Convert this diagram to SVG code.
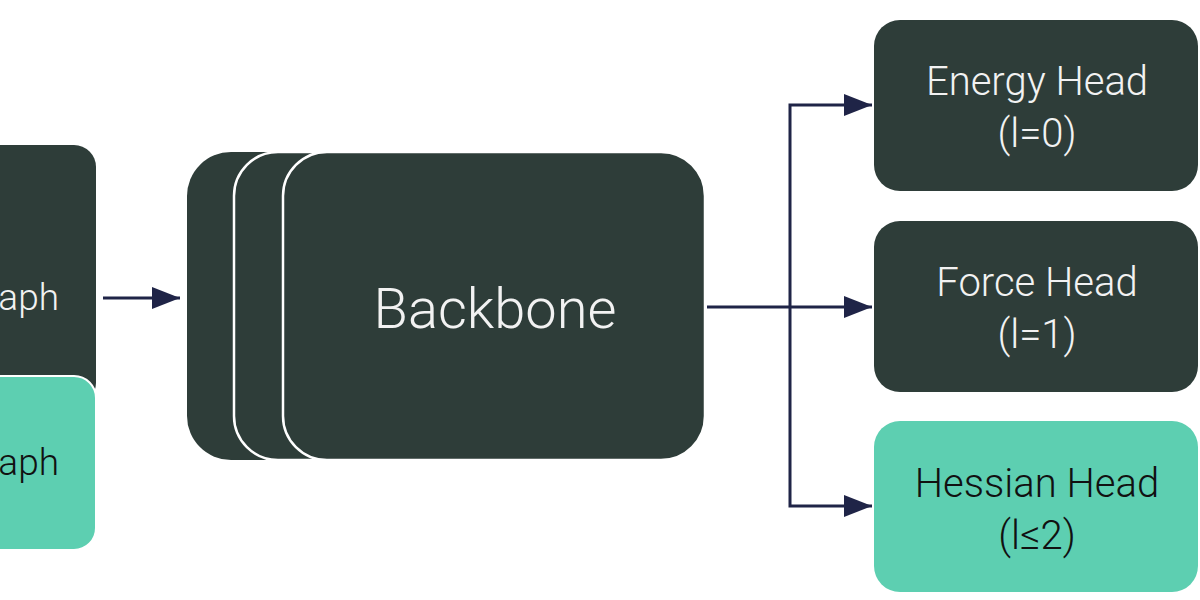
<svg xmlns="http://www.w3.org/2000/svg" width="1200" height="600" viewBox="0 0 1200 600">
<defs>
<style>
.dark{fill:#2e3d39}
.green{fill:#5dcfb1}
.lt{font-family:Roboto,"Liberation Sans",sans-serif;font-weight:300;fill:#f2f2f2}
.dt{font-family:Roboto,"Liberation Sans",sans-serif;font-weight:300;fill:#111}
.conn{stroke:#1f2447;stroke-width:3;fill:none}
</style>
<marker id="a" viewBox="0 0 28 22" refX="28" refY="11" markerWidth="28" markerHeight="22" markerUnits="userSpaceOnUse" orient="auto">
<path d="M0,0 L28,11 L0,22 Z" fill="#1f2447"/>
</marker>
</defs>
<rect width="1200" height="600" fill="#ffffff"/>
<g id="input-graph">
<rect x="-40" y="145" width="136" height="260" rx="22" class="dark"/>
<text x="59" y="310" class="lt" font-size="37" text-anchor="end">aph</text>
</g>
<g id="target-graph">
<rect x="-40" y="376" width="136" height="174" rx="22" class="green" stroke="#ffffff" stroke-width="2"/>
<text x="59" y="475" class="dt" font-size="37" text-anchor="end">aph</text>
</g>
<g id="backbone">
<rect x="187" y="152" width="422" height="308" rx="44" class="dark"/>
<rect x="234" y="152" width="440" height="308" rx="44" class="dark" stroke="#ffffff" stroke-width="2.5"/>
<rect x="283" y="152" width="422" height="308" rx="44" class="dark" stroke="#ffffff" stroke-width="2.5"/>
<text x="495" y="328" class="lt" font-size="56" text-anchor="middle">Backbone</text>
</g>
<g id="energy-head">
<rect x="874" y="20" width="324" height="171" rx="26" class="dark"/>
<text x="1037" y="95" class="lt" font-size="40" text-anchor="middle">Energy Head</text>
<text x="1037" y="147" class="lt" font-size="40" text-anchor="middle">(l=0)</text>
</g>
<g id="force-head">
<rect x="874" y="221" width="324" height="171" rx="26" class="dark"/>
<text x="1037" y="296" class="lt" font-size="40" text-anchor="middle">Force Head</text>
<text x="1037" y="348" class="lt" font-size="40" text-anchor="middle">(l=1)</text>
</g>
<g id="hessian-head">
<rect x="874" y="421" width="324" height="171" rx="26" class="green"/>
<text x="1037" y="497" class="dt" font-size="40" text-anchor="middle">Hessian Head</text>
<text x="1037" y="549" class="dt" font-size="40" text-anchor="middle">(l≤2)</text>
</g>
<g id="connectors">
<line x1="103" y1="298" x2="180" y2="298" class="conn" marker-end="url(#a)"/>
<line x1="707" y1="307" x2="872" y2="307" class="conn" marker-end="url(#a)"/>
<polyline points="790,307 790,105 872,105" class="conn" marker-end="url(#a)"/>
<polyline points="790,307 790,506 872,506" class="conn" marker-end="url(#a)"/>
</g>
</svg>
